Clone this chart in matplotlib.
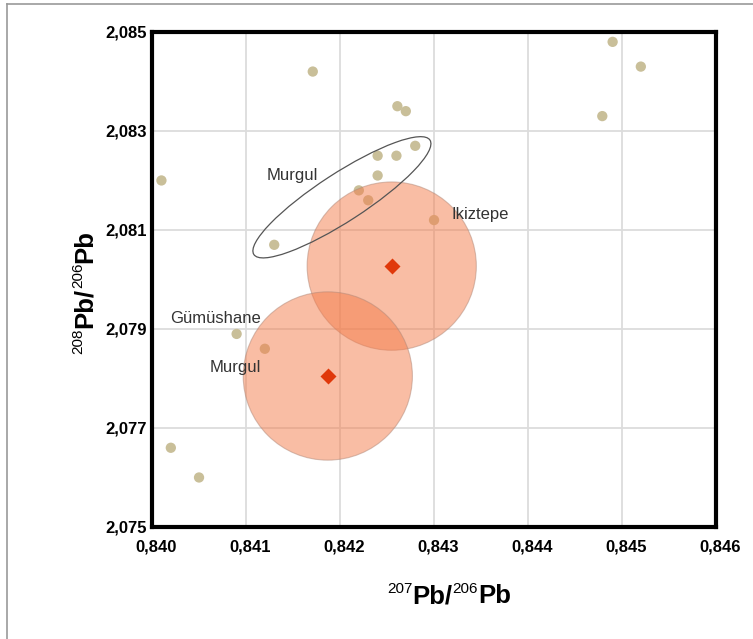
import matplotlib
matplotlib.use("Agg")
import matplotlib.pyplot as plt
from matplotlib.patches import Ellipse
from matplotlib import transforms
from matplotlib.lines import Line2D

plt.rcParams['font.family'] = ['Liberation Sans', 'DejaVu Sans']

# sample data: 207Pb/206Pb vs 208Pb/206Pb
pb207 = [0.8401, 0.84171, 0.84261, 0.8427, 0.84479, 0.8449, 0.8452,
         0.8428, 0.8424, 0.8426, 0.8424, 0.8422, 0.8423, 0.8430,
         0.8413, 0.8409, 0.8412, 0.8402, 0.8405]
pb208 = [2.0820, 2.0842, 2.0835, 2.0834, 2.0833, 2.0848, 2.0843,
         2.0827, 2.0825, 2.0825, 2.0821, 2.0818, 2.0816, 2.0812,
         2.0807, 2.0789, 2.0786, 2.0766, 2.0760]

# mean values (diamonds) with uncertainty circles
mean207 = [0.84255, 0.84187]
mean208 = [2.08027, 2.07805]
err207 = [0.00090, 0.00090]
err208 = [0.00170, 0.00170]

# Murgul field ellipse (centre in data, size in inches)
field_center = (0.84202, 2.08166)
field_w, field_h, field_angle = 2.10, 0.48, 33

labels = ["Murgul", "Ikiztepe", "Gümüshane", "Murgul"]
label_x = [0.84122, 0.84319, 0.84019, 0.84061]
label_y = [2.08210, 2.08131, 2.07922, 2.07823]

xticks = [0.840, 0.841, 0.842, 0.843, 0.844, 0.845, 0.846]
yticks = [2.075, 2.077, 2.079, 2.081, 2.083, 2.085]
xticklabels = ["0,840", "0,841", "0,842", "0,843", "0,844", "0,845", "0,846"]
yticklabels = ["2,075", "2,077", "2,079", "2,081", "2,083", "2,085"]

fig = plt.figure(figsize=(7.53, 6.39), dpi=100)
ax = fig.add_axes([0.2019, 0.1753, 0.7490, 0.7747])
ax.set_xlim(0.840, 0.846)
ax.set_ylim(2.075, 2.085)

ax.set_xticks(xticks)
ax.set_yticks(yticks)
ax.set_xticklabels(xticklabels, fontsize=12, fontweight='bold')
ax.set_yticklabels(yticklabels, fontsize=12, fontweight='bold')
ax.tick_params(length=0)
ax.tick_params(axis='x', pad=9)
ax.tick_params(axis='y', pad=4)
xoff = transforms.ScaledTranslation(4 / 100, 0, fig.dpi_scale_trans)
for lab in ax.get_xticklabels():
    lab.set_transform(lab.get_transform() + xoff)
ax.grid(True, color='#dcdcdc', lw=1.3, zorder=0)
ax.set_axisbelow(True)
for s in ax.spines.values():
    s.set_linewidth(3)
    s.set_color('black')
    s.set_zorder(10)

ax.scatter(pb207, pb208, s=55, color='#c9bf99', edgecolors='none', zorder=2)

for cx, cy, ex, ey in zip(mean207, mean208, err207, err208):
    ax.add_patch(Ellipse((cx, cy), 2 * ex, 2 * ey, facecolor='#f47c4a',
                         alpha=0.5, edgecolor='#b08878', lw=0.8, zorder=3))
ax.plot(mean207, mean208, linestyle='none', marker='D', markersize=8.5,
        color='#e0380a', markeredgecolor='none', zorder=5)

trans = fig.dpi_scale_trans + transforms.ScaledTranslation(
    field_center[0], field_center[1], ax.transData)
ax.add_patch(Ellipse((0, 0), field_w, field_h, angle=field_angle,
                     transform=trans, facecolor='none', edgecolor='#555555',
                     lw=0.9, zorder=4))

for t, x, y in zip(labels, label_x, label_y):
    ax.text(x, y, t, fontsize=12, color='#333333', ha='left', va='center',
            zorder=6)


def compose(pieces, center_px, baseline_px, vertical=False):
    """Draw a label made of pieces (text, size, weight, rise_px)."""
    renderer = fig.canvas.get_renderer()
    widths = []
    for txt, size, weight, rise in pieces:
        t = fig.text(0, 0, txt, fontsize=size, fontweight=weight)
        widths.append(t.get_window_extent(renderer).width)
        t.remove()
    pos = center_px - sum(widths) / 2
    inv = fig.transFigure.inverted()
    for (txt, size, weight, rise), w in zip(pieces, widths):
        if vertical:
            px, py = baseline_px - rise, pos
            rot = 90
        else:
            px, py = pos, baseline_px + rise
            rot = 0
        fx, fy = inv.transform((px, py))
        fig.text(fx, fy, txt, fontsize=size, fontweight=weight,
                 ha='left', va='baseline', rotation=rot,
                 rotation_mode='anchor', color='black')
        pos += w


xlabel_pieces = [("207", 11, 'normal', 10), ("Pb/", 18.5, 'bold', 0),
                 ("206", 11, 'normal', 10), ("Pb", 18.5, 'bold', 0)]
ylabel_pieces = [("208", 11, 'normal', 10), ("Pb/", 18.5, 'bold', 0),
                 ("206", 11, 'normal', 10), ("Pb", 18.5, 'bold', 0)]
compose(xlabel_pieces, 449, 639 - 603)
compose(ylabel_pieces, 639 - 292, 92, vertical=True)

# light frame around the figure
fig.add_artist(Line2D([0.009, 0.009], [0.0, 0.993], transform=fig.transFigure,
                      color='#999999', lw=1.2))
fig.add_artist(Line2D([0.009, 1.0], [0.993, 0.993], transform=fig.transFigure,
                      color='#999999', lw=1.2))

fig.savefig('out.png', dpi=100)
